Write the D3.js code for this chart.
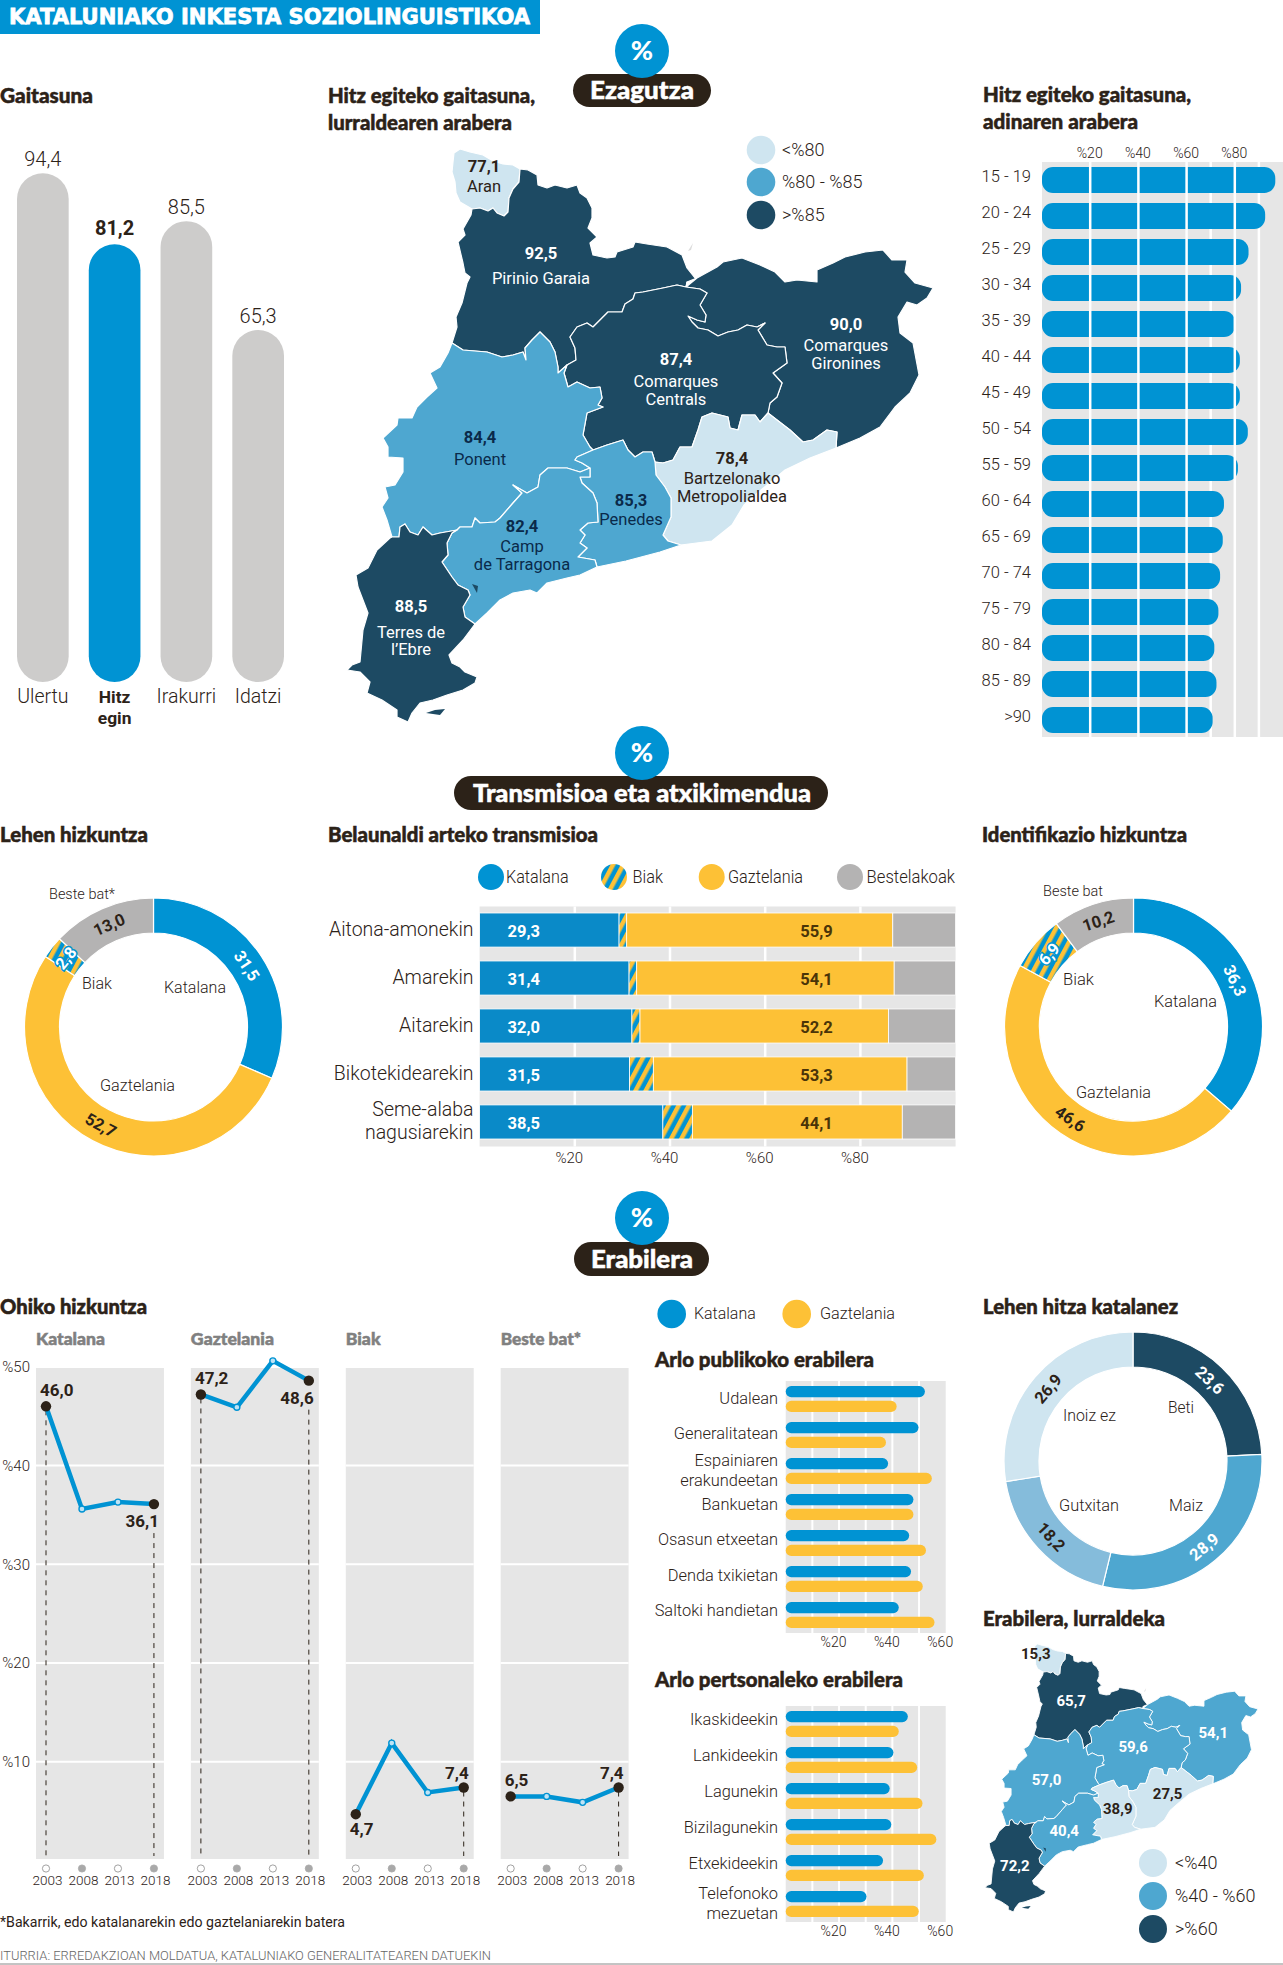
<!DOCTYPE html>
<html>
<head>
<meta charset="utf-8">
<script src="https://d3js.org/d3.v7.min.js"></script>
<style>
  body { margin: 0; background: #fff; }
  text { font-family: Roboto, sans-serif; fill: #2c2218; }
  .head { font-family: Lato, sans-serif; font-weight: 900; }
  .num { font-weight: 700; }
  .thin { font-weight: 300; }
</style>
</head>
<body>
<div id="graph"></div>
<script>
// Gaitasuna
const skillNames = ["Ulertu", "Hitz|egin", "Irakurri", "Idatzi"];
const skillValues = [94.4, 81.2, 85.5, 65.3];

// adinaren arabera
const ageGroups = ["15 - 19", "20 - 24", "25 - 29", "30 - 34", "35 - 39", "40 - 44", "45 - 49", "50 - 54",
    "55 - 59", "60 - 64", "65 - 69", "70 - 74", "75 - 79", "80 - 84", "85 - 89", ">90"];
const ageValues = [96.8, 92.6, 85.7, 82.6, 80.1, 82.1, 82.1, 85.4, 81.3, 75.5, 75.0, 73.9, 73.2, 71.5, 72.4, 70.8];

// lurraldeak
const regionNames = ["Aran", "Pirinio Garaia", "Comarques|Gironines", "Comarques|Centrals", "Ponent",
    "Bartzelonako|Metropolialdea", "Penedes", "Camp|de Tarragona", "Terres de|l\u2019Ebre"];
const skillByRegion = [77.1, 92.5, 90.0, 87.4, 84.4, 78.4, 85.3, 82.4, 88.5];
const useByRegion = [15.3, 65.7, 54.1, 59.6, 57.0, 27.5, 38.9, 40.4, 72.2];

// outlines: coast pieces and the borders regions share
const aranEast = [[520,169],[519,182],[513,189],[509,198],[508,212],[504,216],[497,213],[493,208],[488,211],[480,208],[472,209]];
const aranWest = [[472,209],[460,202],[456,193],[455,182],[452,172],[453,162],[454,153],[460,149],[470,152],[483,155],[493,161],[503,164],[513,165],[520,169]];
const pirinioNorth = [[520,169],[528,170],[537,175],[538,185],[547,188],[555,185],[567,188],[577,185],[580,193],[587,198],[592,208],[592,218],[588,228],[597,237],[590,243],[593,255],[607,258],[615,257],[617,252],[633,247],[635,242],[647,244],[667,247],[682,255],[687,268],[695,278],[697,278]];
const pirinioCentrals = [[697,278],[687,282],[686,287],[677,285],[663,288],[643,292],[635,293],[633,299],[625,304],[622,312],[608,312],[593,327],[587,323],[577,327],[570,337],[575,348],[576,360],[567,365]];
const pirinioPonent = [[567,365],[558,373],[558,367],[555,352],[550,342],[540,332],[532,340],[525,348],[526,360],[523,352],[513,355],[502,357],[487,352],[463,350],[452,343]];
const pirinioWest = [[452,343],[457,327],[456,317],[462,303],[467,283],[470,277],[465,273],[463,263],[458,242],[465,235],[463,229],[471,215],[472,209]];
const gironesCoast = [[697,278],[717,267],[723,262],[742,258],[760,265],[775,272],[785,282],[797,280],[817,282],[817,270],[833,263],[845,257],[865,252],[883,250],[892,260],[907,260],[905,272],[915,283],[933,288],[927,298],[917,305],[907,302],[898,317],[900,333],[913,343],[919,375],[910,393],[895,407],[880,427],[860,438],[836,448]];
const gironesCentrals = [[686,287],[700,289],[707,293],[700,305],[706,315],[705,322],[697,320],[688,316],[692,322],[698,328],[708,330],[718,336],[728,332],[738,330],[747,325],[757,327],[765,323],[758,330],[767,345],[777,347],[785,347],[787,363],[773,373],[782,383],[777,397],[770,403],[768,413]];
const bcnGirones = [[768,413],[777,420],[790,430],[803,442],[813,440],[827,430],[837,432],[836,448]];
const centralsBcn = [[768,413],[760,422],[755,415],[742,415],[738,430],[730,428],[728,417],[712,413],[702,417],[698,430],[692,447],[680,447],[673,460],[663,463],[655,462]];
const penedesCentrals = [[593,450],[607,445],[623,440],[628,450],[635,457],[643,452],[652,452],[655,462]];
const ponentCentrals = [[567,365],[564,373],[568,387],[577,382],[590,388],[600,387],[602,398],[598,405],[603,407],[587,413],[583,435],[590,447],[593,450]];
const ponentPenedes = [[593,450],[577,457],[575,460],[582,463],[590,468]];
const ponentCamp = [[590,468],[580,472],[567,468],[548,468],[540,475],[538,487],[527,493],[513,485],[522,493],[513,503],[500,518],[495,522],[480,523],[475,518],[472,527],[460,527],[457,530]];
const ponentEbre = [[457,530],[440,533],[432,535],[423,527],[418,535],[410,532],[405,524],[400,527],[399,537],[392,537]];
const ponentWest = [[392,537],[387,520],[382,507],[388,498],[385,487],[395,485],[403,472],[403,458],[388,457],[388,447],[383,438],[397,425],[398,418],[412,418],[417,407],[427,397],[437,388],[430,373],[440,367],[448,353],[452,343]];
const bcnCoast = [[836,448],[810,458],[785,470],[761,490],[744,505],[732,525],[712,541],[681,545]];
const bcnPenedes = [[681,545],[668,541],[663,535],[671,517],[671,498],[665,487],[656,475],[655,462]];
const penedesCoast = [[681,545],[660,552],[626,561],[597,567]];
const penedesCamp = [[590,468],[590,477],[580,477],[582,483],[593,493],[597,503],[598,522],[588,523],[580,530],[585,535],[580,543],[587,548],[578,557],[595,560],[597,567]];
const campCoast = [[597,567],[580,575],[567,578],[547,583],[537,593],[530,590],[513,593],[500,600],[487,613],[475,624]];
const campEbre = [[475,624],[465,617],[463,607],[470,595],[468,590],[458,585],[452,577],[442,562],[448,555],[447,543],[452,533],[457,530]];
const ebreCoast = [[475,624],[463,640],[449,655],[452,663],[460,667],[465,672],[477,677],[475,683],[463,690],[447,695],[433,700],[420,703],[412,713],[408,722],[397,717],[397,710],[382,700],[367,693],[370,682],[360,672],[347,670],[352,665],[360,662],[363,630],[368,613],[358,587],[356,575],[368,568],[377,550],[390,538],[392,537]];
const ebreIsland = [[426,713],[435,710],[445,709],[440,715],[430,717]];
const ebreEnclave = [[472,584],[478,586],[477,593],[470,592]];
const lakeShape = [[695,333],[700,333],[697,338]];
const andorraShape = [[688,251],[693,243],[691,250],[696,254]];

const rev = a => a.slice().reverse();
const regionShapes = [
    aranEast.concat(aranWest),
    pirinioNorth.concat(pirinioCentrals, pirinioPonent, pirinioWest, rev(aranEast)),
    gironesCoast.concat(rev(bcnGirones), rev(gironesCentrals), [[687,282]]),
    gironesCentrals.concat(centralsBcn, rev(penedesCentrals), rev(ponentCentrals), rev(pirinioCentrals)),
    rev(pirinioPonent).concat(ponentCentrals, ponentPenedes, ponentCamp, ponentEbre, ponentWest),
    rev(centralsBcn).concat(bcnGirones, bcnCoast, bcnPenedes),
    penedesCentrals.concat(rev(bcnPenedes), penedesCoast, rev(penedesCamp), rev(ponentPenedes)),
    rev(ponentCamp).concat(penedesCamp, campCoast, campEbre),
    rev(campEbre).concat(ebreCoast, rev(ponentEbre))
];

// Lehen hizkuntza / Identifikazio hizkuntza
const langNames = ["Katalana", "Gaztelania", "Biak", "Beste bat"];
const firstLangValues = [31.5, 52.7, 2.8, 13.0];
const identityValues = [36.3, 46.6, 6.9, 10.2];

// Belaunaldi arteko transmisioa
const stackKeys = ["Katalana", "Biak", "Gaztelania", "Bestelakoak"];
const relatives = ["Aitona-amonekin", "Amarekin", "Aitarekin", "Bikotekidearekin", "Seme-alaba|nagusiarekin"];
const stackCatalan = [29.3, 31.4, 32.0, 31.5, 38.5];
const stackBoth = [1.6, 1.6, 1.7, 5.0, 6.2];
const stackSpanish = [55.9, 54.1, 52.2, 53.3, 44.1];
const stackOther = [13.2, 12.9, 14.1, 10.2, 11.2];

// Ohiko hizkuntza
const years = [2003, 2008, 2013, 2018];
const habitNames = ["Katalana", "Gaztelania", "Biak", "Beste bat*"];
const habitSeries = [
    [46.0, 35.6, 36.3, 36.1],
    [47.2, 45.9, 50.6, 48.6],
    [4.7, 11.9, 6.9, 7.4],
    [6.5, 6.5, 5.9, 7.4]
];
const habitFirstBelow = [false, false, true, false];
const habitLastBelow = [true, true, false, false];

// Arlo publikoa / pertsonala
const publicPlaces = ["Udalean", "Generalitatean", "Espainiaren|erakundeetan", "Bankuetan", "Osasun etxeetan", "Denda txikietan", "Saltoki handietan"];
const publicCatalan = [52.2, 49.8, 38.4, 47.9, 46.3, 47.0, 42.4];
const publicSpanish = [41.6, 37.6, 54.8, 47.9, 52.6, 51.4, 55.8];
const personalPeople = ["Ikaskideekin", "Lankideekin", "Lagunekin", "Bizilagunekin", "Etxekideekin", "Telefonoko|mezuetan"];
const personalCatalan = [45.8, 40.4, 39.0, 39.6, 36.5, 30.3];
const personalSpanish = [42.4, 49.3, 51.3, 56.5, 51.8, 49.9];

// Lehen hitza katalanez
const firstWordNames = ["Beti", "Maiz", "Gutxitan", "Inoiz ez"];
const firstWordValues = [23.6, 28.9, 18.2, 26.9];

const BLUE = "#0093d3", YELLOW = "#fdc136", DARK = "#2c2218", BACK = "#e6e6e6", BAR_GREY = "#cdcccb", OTHER = "#b4b3b3";
const MAP_LIGHT = "#cfe5f0", MAP_MID = "#4ea7d0", MAP_DARK = "#1d4a63";

let svg = d3.select("#graph").append("svg").attr("width", 1283).attr("height", 1965).style("display", "block");

let defs = svg.append("defs");
let hatch = defs.append("pattern").attr("id", "hatch").attr("patternUnits", "userSpaceOnUse")
    .attr("width", 9).attr("height", 9).attr("patternTransform", "rotate(28)");
hatch.append("rect").attr("width", 9).attr("height", 9).attr("fill", BLUE);
hatch.append("rect").attr("width", 4.5).attr("height", 9).attr("fill", YELLOW);

const comma = v => v.toFixed(1).replace(".", ",");

function label(g, x, y, s, size, anchor, cls, color) {
    let t = g.append("text").attr("x", x).attr("y", y).attr("font-size", size).text(s);
    if (anchor) t.attr("text-anchor", anchor);
    if (cls) t.attr("class", cls);
    if (color) t.style("fill", color);
    return t;
}

// fits a text between two x positions
function fitted(g, x0, x1, y, s, size, cls, color) {
    let t = label(g, x0, y, s, size, null, cls, color)
        .attr("textLength", x1 - x0).attr("lengthAdjust", "spacingAndGlyphs");
    if (cls == "head") t.style("stroke", color || DARK).style("stroke-width", 0.5);
    return t;
}

// names with a | go on two lines of one text
function lines(g, x, y, s, size, step, anchor, cls, color) {
    let t = label(g, x, y, "", size, anchor, cls, color);
    s.split("|").forEach((part, i) => {
        t.append("tspan").attr("x", x).attr("dy", i ? step : 0).text(part);
    });
    return t;
}

function sectionBadge(cy, pillX0, pillX1, pillY0, pillY1, txtX0, txtX1, name) {
    svg.append("rect").attr("x", pillX0).attr("y", pillY0).attr("width", pillX1 - pillX0).attr("height", pillY1 - pillY0)
        .attr("rx", (pillY1 - pillY0) / 2).attr("fill", DARK);
    svg.append("circle").attr("cx", 642).attr("cy", cy).attr("r", 27).attr("fill", BLUE);
    label(svg, 642, cy + 9, "%", 27, "middle", "head", "#fff");
    fitted(svg, txtX0, txtX1, pillY1 - 8, name, 25, "head", "#fff");
}

function drawHeader() {
    svg.append("rect").attr("width", 540).attr("height", 34).attr("fill", BLUE);
    fitted(svg, 9, 530, 24, "KATALUNIAKO INKESTA SOZIOLINGUISTIKOA", 21, null, "#fff")
        .style("font-family", "'DejaVu Sans'").style("font-weight", 700)
        .style("stroke", "#fff").style("stroke-width", 0.8);
    sectionBadge(51, 573, 711, 74, 107, 590, 694, "Ezagutza");
    sectionBadge(753, 454, 828, 776, 810, 473, 811, "Transmisioa eta atxikimendua");
    sectionBadge(1218, 574, 709, 1242, 1276, 591, 693, "Erabilera");

    fitted(svg, 0, 93, 103, "Gaitasuna", 20, "head");
    fitted(svg, 328, 535, 103, "Hitz egiteko gaitasuna,", 20, "head");
    fitted(svg, 328, 512, 130, "lurraldearen arabera", 20, "head");
    fitted(svg, 983, 1191, 102, "Hitz egiteko gaitasuna,", 20, "head");
    fitted(svg, 983, 1138, 129, "adinaren arabera", 20, "head");
    fitted(svg, 0, 148, 842, "Lehen hizkuntza", 20, "head");
    fitted(svg, 328, 598, 842, "Belaunaldi arteko transmisioa", 20, "head");
    fitted(svg, 982, 1187, 842, "Identifikazio hizkuntza", 20, "head");
    fitted(svg, 0, 147, 1314, "Ohiko hizkuntza", 20, "head");
    fitted(svg, 655, 874, 1367, "Arlo publikoko erabilera", 20, "head");
    fitted(svg, 655, 903, 1687, "Arlo pertsonaleko erabilera", 20, "head");
    fitted(svg, 983, 1178, 1314, "Lehen hitza katalanez", 20, "head");
    fitted(svg, 983, 1165, 1626, "Erabilera, lurraldeka", 20, "head");

    fitted(svg, 0, 345, 1927, "*Bakarrik, edo katalanarekin edo gaztelaniarekin batera", 15);
    fitted(svg, 0, 491, 1960, "ITURRIA: ERREDAKZIOAN MOLDATUA, KATALUNIAKO GENERALITATEAREN DATUEKIN", 13, "thin", "#666");
    svg.append("line").attr("x1", 0).attr("x2", 1283).attr("y1", 1964).attr("y2", 1964).attr("stroke", "#888");
}

function drawSkill() {
    let x = d3.scaleBand().domain(skillNames).range([17, 284]).paddingInner(0.28);
    let y = d3.scaleLinear().domain([0, 100]).range([682, 143]);
    svg.selectAll(".skillBar").data(skillNames).join("rect")
        .attr("class", "skillBar")
        .attr("x", d => x(d))
        .attr("width", x.bandwidth())
        .attr("y", (d, i) => y(skillValues[i]))
        .attr("height", (d, i) => y(0) - y(skillValues[i]))
        .attr("rx", x.bandwidth() / 2)
        .attr("fill", (d, i) => i == 1 ? BLUE : BAR_GREY);
    skillNames.forEach((d, i) => {
        let cx = x(d) + x.bandwidth() / 2;
        label(svg, cx, y(skillValues[i]) - (i == 1 ? 9 : 7), comma(skillValues[i]), 20, "middle", i == 1 ? "num" : "thin");
        if (i == 1) lines(svg, cx, 703, d, 17.4, 20.5, "middle", "num");
        else label(svg, cx, 703, d, 19.5, "middle", "thin");
    });
}

function drawAge() {
    let x = d3.scaleLinear().domain([0, 100]).range([1042, 1283]);
    let y = d3.scaleBand().domain(ageGroups).range([162, 738]).paddingInner(0.28).paddingOuter(0.14);
    svg.append("rect").attr("x", x(0)).attr("y", 162).attr("width", x(100) - x(0)).attr("height", 575).attr("fill", BACK);
    svg.selectAll(".backLine").data([70, 90]).join("line")
        .attr("class", "backLine")
        .attr("x1", d => x(d)).attr("x2", d => x(d)).attr("y1", 162).attr("y2", 737)
        .attr("stroke", "#fff").attr("stroke-width", 2.5);
    svg.selectAll(".ageBar").data(ageGroups).join("rect")
        .attr("class", "ageBar")
        .attr("x", x(0))
        .attr("y", d => y(d))
        .attr("width", (d, i) => x(ageValues[i]) - x(0))
        .attr("height", y.bandwidth())
        .attr("rx", 11)
        .attr("fill", BLUE);
    svg.selectAll(".ageLine").data([20, 40, 60, 80]).join("line")
        .attr("class", "ageLine")
        .attr("x1", d => x(d)).attr("x2", d => x(d)).attr("y1", 162).attr("y2", 737)
        .attr("stroke", "#fff").attr("stroke-width", 2.5);
    let axis = svg.append("g").attr("transform", "translate(0,162)")
        .call(d3.axisTop(x).tickValues([20, 40, 60, 80]).tickSize(0).tickPadding(4).tickFormat(d => "%" + d));
    axis.select(".domain").remove();
    axis.selectAll("text").attr("font-size", 14).attr("class", "thin").attr("dx", -1);
    ageGroups.forEach(d => label(svg, 1031, y(d) + y.bandwidth() / 2 + 2, d, 16.5, "end", "thin"));
}

function drawMap(x0, x1, y0, y1, values, color, strokeWidth) {
    let sx = d3.scaleLinear().domain([347, 933]).range([x0, x1]);
    let sy = d3.scaleLinear().domain([149, 722]).range([y0, y1]);
    let path = d3.geoPath(d3.geoTransform({
        point: function(a, b) { this.stream.point(sx(a), sy(b)); }
    }));
    let shape = ring => path({ type: "Polygon", coordinates: [ring] });
    let g = svg.append("g");
    g.selectAll("path").data(regionShapes).join("path")
        .attr("d", shape)
        .attr("fill", (s, i) => color(values[i]))
        .attr("stroke", "#fff").attr("stroke-width", strokeWidth).attr("stroke-linejoin", "round");
    g.append("path").attr("d", shape(ebreIsland)).attr("fill", color(values[8]));
    g.append("path").attr("d", shape(ebreEnclave)).attr("fill", color(values[8]));
    g.append("path").attr("d", shape(lakeShape)).attr("fill", "#fff");
    g.append("path").attr("d", shape(andorraShape)).attr("fill", "#dcdcdc");
    return [sx, sy];
}

function drawMaps() {
    let color1 = d3.scaleThreshold().domain([80, 85.5]).range([MAP_LIGHT, MAP_MID, MAP_DARK]);
    let s1 = drawMap(347, 933, 149, 722, skillByRegion, color1, 1.2);
    // value and name spots in outline units: x, value baseline, name baselines
    let spots1 = [[484, 172, 192], [541, 259, 284], [846, 330, 351, 369], [676, 365, 387, 405], [480, 443, 465],
        [732, 464, 484, 502], [631, 506, 525], [522, 532, 552, 570], [411, 612, 638, 655]];
    regionNames.forEach((d, i) => {
        let v = skillByRegion[i];
        let ink = color1(v) == MAP_DARK ? "#fff" : (color1(v) == MAP_MID ? "#0a2a4a" : DARK);
        label(svg, s1[0](spots1[i][0]), s1[1](spots1[i][1]), comma(v), 16.5, "middle", "num", ink);
        d.split("|").forEach((part, j) => {
            label(svg, s1[0](spots1[i][0]), s1[1](spots1[i][2 + j]), part, 16.5, "middle", null, ink);
        });
    });
    legend(761, [150, 182, 215], 14.3, 782, ["<%80", "%80 - %85", ">%85"], 18);

    let color2 = d3.scaleThreshold().domain([40, 60]).range([MAP_LIGHT, MAP_MID, MAP_DARK]);
    let s2 = drawMap(985, 1258, 1644, 1912, useByRegion, color2, 0.9);
    let spots2 = [[456, 181], [532, 282], [837, 350], [665, 380], [479, 451], [739, 480], [632, 512], [517, 559], [411, 634]];
    regionNames.forEach((d, i) => {
        let v = useByRegion[i];
        let ink = color2(v) == MAP_LIGHT ? DARK : "#fff";
        label(svg, s2[0](spots2[i][0]), s2[1](spots2[i][1]), comma(v), 15, "middle", "num", ink);
    });
    legend(1153, [1863, 1896, 1929], 14, 1175, ["<%40", "%40 - %60", ">%60"], 18);
}

function legend(cx, ys, r, tx, names, size) {
    let fills = [MAP_LIGHT, MAP_MID, MAP_DARK];
    ys.forEach((y, i) => {
        svg.append("circle").attr("cx", cx).attr("cy", y).attr("r", r).attr("fill", fills[i]);
        label(svg, tx, y + 6, names[i], size, null, "thin");
    });
}

function drawDonut(cx, cy, names, values, fills, inks) {
    let pie = d3.pie().sort(null).value(d => d)(values);
    let arc = d3.arc().innerRadius(94).outerRadius(129);
    let g = svg.append("g").attr("transform", `translate(${cx},${cy})`);
    g.selectAll("path").data(pie).join("path")
        .attr("d", arc)
        .attr("fill", (d, i) => fills[i])
        .attr("stroke", "#fff").attr("stroke-width", 1.2);
    pie.forEach((d, i) => {
        let c = arc.centroid(d);
        let a = (d.startAngle + d.endAngle) / 2 * 180 / Math.PI;
        let turn = a > 270 ? a - 360 : (a > 90 ? a - 180 : a);
        let t = g.append("text").attr("transform", `translate(${c[0]},${c[1]})rotate(${turn})`)
            .attr("text-anchor", "middle").attr("dy", "0.35em").attr("font-size", 16.5).attr("class", "num")
            .style("fill", inks[i]).text(comma(values[i]));
        if (fills[i] == "url(#hatch)") t.style("paint-order", "stroke").style("stroke", BLUE).style("stroke-width", 3);
    });
}

function drawDonuts() {
    let fills = [BLUE, YELLOW, "url(#hatch)", OTHER];
    let inks = ["#fff", DARK, "#fff", DARK];
    drawDonut(153.5, 1027, langNames, firstLangValues, fills, inks);
    drawDonut(1133.5, 1027, langNames, identityValues, fills, inks);
    fitted(svg, 49, 115, 899, "Beste bat*", 15, "thin");
    fitted(svg, 82, 112, 989, "Biak", 17, "thin");
    fitted(svg, 164, 226, 993, "Katalana", 17, "thin");
    fitted(svg, 100, 175, 1091, "Gaztelania", 17, "thin");
    fitted(svg, 1043, 1103, 896, "Beste bat", 15, "thin");
    fitted(svg, 1063, 1094, 985, "Biak", 17, "thin");
    fitted(svg, 1154, 1217, 1007, "Katalana", 17, "thin");
    fitted(svg, 1076, 1151, 1098, "Gaztelania", 17, "thin");

    let blues = [MAP_DARK, MAP_MID, "#85bcdb", MAP_LIGHT];
    drawDonut(1133, 1461, firstWordNames, firstWordValues, blues, ["#fff", "#fff", DARK, DARK]);
    fitted(svg, 1168, 1194, 1413, "Beti", 17, "thin");
    fitted(svg, 1169, 1203, 1511, "Maiz", 17, "thin");
    fitted(svg, 1059, 1119, 1511, "Gutxitan", 17, "thin");
    fitted(svg, 1063, 1116, 1421, "Inoiz ez", 17, "thin");
}

function drawStack() {
    let x = d3.scaleLinear().domain([0, 100]).range([479.6, 955.6]);
    let y = d3.scaleBand().domain(relatives).range([906, 1146]).paddingInner(0.29).paddingOuter(0.146);
    svg.append("rect").attr("x", x(0)).attr("y", 906.5).attr("width", x(100) - x(0)).attr("height", 240).attr("fill", BACK);
    svg.selectAll(".stackLine").data([20, 40, 60, 80]).join("line")
        .attr("class", "stackLine")
        .attr("x1", d => x(d)).attr("x2", d => x(d)).attr("y1", 906.5).attr("y2", 1146.5)
        .attr("stroke", "#fff").attr("stroke-width", 2.5);

    let rows = relatives.map((d, i) => ({
        name: d, Katalana: stackCatalan[i], Biak: stackBoth[i], Gaztelania: stackSpanish[i], Bestelakoak: stackOther[i]
    }));
    let fills = { Katalana: "#0a8ac8", Biak: "url(#hatch)", Gaztelania: YELLOW, Bestelakoak: OTHER };
    let series = d3.stack().keys(stackKeys)(rows);
    svg.selectAll(".stackSeries").data(series).join("g")
        .attr("class", "stackSeries")
        .attr("fill", s => fills[s.key])
        .selectAll("rect").data(s => s).join("rect")
        .attr("x", d => x(d[0]))
        .attr("y", d => y(d.data.name))
        .attr("width", d => x(d[1]) - x(d[0]))
        .attr("height", y.bandwidth())
        .attr("stroke", "#fff").attr("stroke-width", 0.8);

    relatives.forEach((d, i) => {
        let mid = y(d) + y.bandwidth() / 2;
        label(svg, 523.7, mid + 7, comma(stackCatalan[i]), 16.5, "middle", "num", "#fff");
        label(svg, 816.6, mid + 7, comma(stackSpanish[i]), 16.5, "middle", "num", "#4a3408");
        if (d.includes("|")) lines(svg, 473.5, mid - 6, d, 19.5, 23, "end", "thin");
        else label(svg, 473.5, mid + 6, d, 19.5, "end", "thin");
    });

    let axis = svg.append("g").attr("transform", "translate(0,1146)")
        .call(d3.axisBottom(x).tickValues([20, 40, 60, 80]).tickSize(0).tickPadding(6).tickFormat(d => "%" + d));
    axis.select(".domain").remove();
    axis.selectAll("text").attr("font-size", 15).attr("class", "thin").attr("dx", -6);

    let swatch = [[491, 506, 568.6], [614, 632.6, 663], [711.7, 728, 803], [850, 866.6, 955]];
    let swatchFill = [BLUE, "url(#hatch)", YELLOW, OTHER];
    stackKeys.forEach((d, i) => {
        svg.append("circle").attr("cx", swatch[i][0]).attr("cy", 877).attr("r", 13).attr("fill", swatchFill[i]);
        fitted(svg, swatch[i][1], swatch[i][2], 883, d, 18, "thin");
    });
}

function drawHabit() {
    let y = d3.scaleLinear().domain([0, 50]).range([1860.6, 1366.8]);
    let panelLefts = d3.scaleBand().domain(habitNames).range([36, 628.6]).paddingInner(0.174);
    let nameEnds = [105, 274, 380.5, 581];

    let yAxis = svg.append("g").attr("transform", "translate(30,0)")
        .call(d3.axisLeft(y).tickValues([10, 20, 30, 40, 50]).tickSize(0).tickPadding(0).tickFormat(d => "%" + d));
    yAxis.select(".domain").remove();
    yAxis.selectAll("text").attr("font-size", 15).attr("class", "thin");

    habitNames.forEach((name, k) => {
        let left = panelLefts(name), w = panelLefts.bandwidth();
        let values = habitSeries[k];
        let x = d3.scalePoint().domain(years).range([left + 10, left + w - 10]);
        let g = svg.append("g");
        g.append("rect").attr("x", left).attr("y", 1368).attr("width", w).attr("height", 491).attr("fill", BACK);
        g.selectAll(".gridLine").data([10, 20, 30, 40]).join("line")
            .attr("class", "gridLine")
            .attr("x1", left).attr("x2", left + w).attr("y1", d => y(d)).attr("y2", d => y(d))
            .attr("stroke", "#fff").attr("stroke-width", 2);
        fitted(g, left, nameEnds[k], 1345, name, 17, "head", "#808080");

        // dashed drop lines under the first and last point
        [[0, habitFirstBelow[k]], [3, habitLastBelow[k]]].forEach(p => {
            let top = y(values[p[0]]) + (p[1] ? 29 : 4);
            if (1859 - top > 60) {
                g.append("line").attr("x1", x(years[p[0]])).attr("x2", x(years[p[0]]))
                    .attr("y1", top).attr("y2", 1856)
                    .attr("stroke", DARK).attr("stroke-width", 1).attr("stroke-dasharray", "5,5");
            }
        });

        let line = d3.line().x((d, i) => x(years[i])).y(d => y(d));
        g.append("path").attr("d", line(values)).attr("fill", "none").attr("stroke", BLUE).attr("stroke-width", 4.5);
        g.selectAll(".dot").data(values).join("circle")
            .attr("class", "dot")
            .attr("cx", (d, i) => x(years[i]))
            .attr("cy", d => y(d))
            .attr("r", (d, i) => (i == 0 || i == 3) ? 5.2 : 3)
            .attr("fill", (d, i) => (i == 0 || i == 3) ? DARK : "#bfe3f5")
            .attr("stroke", (d, i) => (i == 0 || i == 3) ? "none" : BLUE)
            .attr("stroke-width", 1.4);

        label(g, x(years[0]) - 6, y(values[0]) + (habitFirstBelow[k] ? 21 : -10), comma(values[0]), 17, "start", "num");
        label(g, x(years[3]) + 5, y(values[3]) + (habitLastBelow[k] ? 23 : -9), comma(values[3]), 17, "end", "num");

        g.selectAll(".yearDot").data(years).join("circle")
            .attr("class", "yearDot")
            .attr("cx", d => x(d)).attr("cy", 1868.5).attr("r", 3.6)
            .attr("fill", (d, i) => i % 2 ? "#a9a9a9" : "#fff")
            .attr("stroke", (d, i) => i % 2 ? "#a9a9a9" : "#8a8a8a").attr("stroke-width", 0.8);
        let xAxis = g.append("g").attr("transform", "translate(0,1875)")
            .call(d3.axisBottom(x).tickSize(0).tickPadding(0).tickFormat(d => d));
        xAxis.select(".domain").remove();
        xAxis.selectAll("text").attr("font-size", 13.5).attr("class", "thin").attr("dx", 1);
    });
}

function drawUse(names, catalan, spanish, top, bottom, labelShift) {
    let x = d3.scaleLinear().domain([0, 60]).range([785.7, 945.7]);
    let y = d3.scaleBand().domain(names).range([top, bottom]).paddingInner(0.28).paddingOuter(0.14);
    let sub = d3.scaleBand().domain(["Katalana", "Gaztelania"]).range([0, y.bandwidth()]).paddingInner(0.25);
    svg.append("rect").attr("x", x(0)).attr("y", top).attr("width", x(60) - x(0)).attr("height", bottom - top).attr("fill", BACK);
    let g = svg.append("g");
    g.selectAll("line").data([10, 20, 30, 40, 50]).join("line")
        .attr("x1", d => x(d)).attr("x2", d => x(d)).attr("y1", top).attr("y2", bottom)
        .attr("stroke", "#fff").attr("stroke-width", 2);
    [["Katalana", catalan, BLUE], ["Gaztelania", spanish, YELLOW]].forEach(s => {
        g.selectAll(".b" + s[0]).data(names).join("rect")
            .attr("class", "b" + s[0])
            .attr("x", x(0))
            .attr("y", d => y(d) + sub(s[0]))
            .attr("width", (d, i) => x(s[1][i]) - x(0))
            .attr("height", sub.bandwidth())
            .attr("rx", sub.bandwidth() / 2)
            .attr("fill", s[2]);
    });
    names.forEach((d, i) => {
        let mid = y(d) + y.bandwidth() / 2;
        if (d.includes("|")) lines(svg, 778, mid - 5, d, 16.4, 19.5, "end", "thin");
        else label(svg, 778, mid + 5.5 + labelShift(i), d, 16.4, "end", "thin");
    });
    let axis = svg.append("g").attr("transform", `translate(0,${bottom})`)
        .call(d3.axisBottom(x).tickValues([20, 40, 60]).tickSize(0).tickPadding(4).tickFormat(d => "%" + d));
    axis.select(".domain").remove();
    axis.selectAll("text").attr("font-size", 14).attr("class", "thin").attr("dx", -6);
}

function drawUseLegend() {
    svg.append("circle").attr("cx", 671.7).attr("cy", 1314).attr("r", 14.3).attr("fill", BLUE);
    svg.append("circle").attr("cx", 796.7).attr("cy", 1314).attr("r", 14.3).attr("fill", YELLOW);
    fitted(svg, 694, 755.7, 1319, "Katalana", 17, "thin");
    fitted(svg, 820, 895, 1319, "Gaztelania", 17, "thin");
}

drawHeader();
drawSkill();
drawAge();
drawMaps();
drawDonuts();
drawStack();
drawHabit();
drawUseLegend();
drawUse(publicPlaces, publicCatalan, publicSpanish, 1381, 1633, i => -1 - 0.6 * i);
drawUse(personalPeople, personalCatalan, personalSpanish, 1706, 1922, i => -5);
</script>
</body>
</html>
